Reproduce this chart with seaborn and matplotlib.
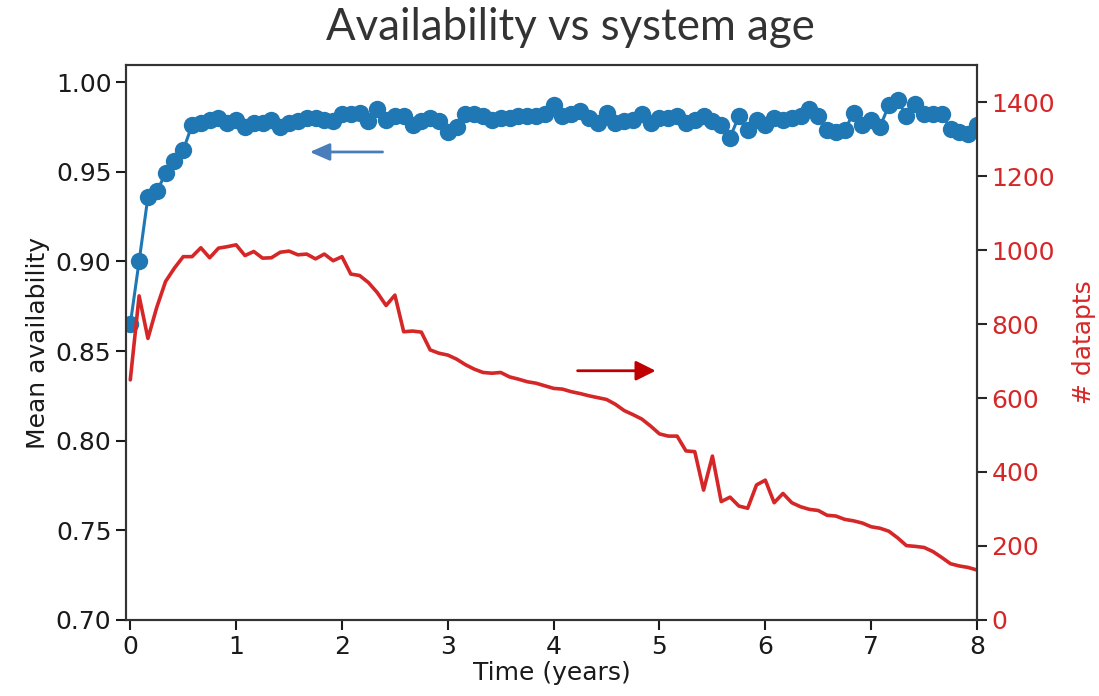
import numpy as np
import pandas as pd
import matplotlib
matplotlib.use("Agg")
import matplotlib.pyplot as plt
import seaborn as sns

# ========== data (one value per month) ==========
months = np.arange(97)
years = months / 12

mean_avail = [
    0.865, 0.900, 0.936, 0.939, 0.949, 0.956, 0.962, 0.976, 0.977, 0.979,
    0.980, 0.977, 0.979, 0.975, 0.977, 0.977, 0.979, 0.975, 0.977, 0.978,
    0.980, 0.980, 0.979, 0.978, 0.982, 0.982, 0.983, 0.978, 0.985, 0.979,
    0.981, 0.981, 0.976, 0.978, 0.980, 0.978, 0.972, 0.975, 0.982, 0.982,
    0.981, 0.979, 0.980, 0.980, 0.981, 0.981, 0.981, 0.982, 0.987, 0.981,
    0.982, 0.984, 0.980, 0.977, 0.983, 0.977, 0.978, 0.979, 0.982, 0.977,
    0.980, 0.980, 0.981, 0.977, 0.979, 0.981, 0.978, 0.976, 0.969, 0.981,
    0.973, 0.979, 0.976, 0.980, 0.979, 0.980, 0.981, 0.985, 0.981, 0.973,
    0.972, 0.973, 0.983, 0.976, 0.979, 0.975, 0.987, 0.990, 0.981, 0.988,
    0.982, 0.982, 0.982, 0.974, 0.972, 0.971, 0.976,
]

n_datapts = [
    649, 876, 761, 845, 915, 951, 982, 982, 1006, 979,
    1005, 1009, 1014, 985, 996, 978, 979, 994, 997, 987,
    989, 976, 989, 971, 982, 935, 931, 912, 885, 850,
    878, 779, 781, 778, 730, 721, 716, 705, 690, 678,
    669, 667, 669, 657, 651, 644, 640, 633, 626, 624,
    617, 612, 606, 601, 596, 583, 566, 555, 543, 524,
    503, 497, 497, 457, 455, 351, 443, 320, 332, 308,
    302, 365, 378, 317, 342, 317, 306, 299, 296, 283,
    281, 272, 268, 262, 252, 248, 240, 222, 201, 199,
    196, 185, 169, 152, 146, 142, 135,
]

df = pd.DataFrame({"years": years, "avail": mean_avail, "npts": n_datapts})

# ========== plot ==========
sns.set_style("ticks")
plt.rcParams["font.family"] = ["DejaVu Sans"]

fig = plt.figure(figsize=(10.99, 6.96), dpi=100)
ax = fig.add_axes([0.1147, 0.1092, 0.7743, 0.7974])

sns.lineplot(data=df, x="years", y="avail", ax=ax, color="#1f77b4",
             marker="o", markersize=12.5, markeredgewidth=0, linewidth=2.2)
ax.set_ylim(0.70, 1.0095)
ax.set_xlim(-0.04, 8)
ax.set_yticks([0.70, 0.75, 0.80, 0.85, 0.90, 0.95, 1.00])
ax.set_yticklabels([f"{v:.2f}" for v in ax.get_yticks()])
ax.set_xticks(range(9))
ax.set_xlabel("Time (years)", fontsize=18, color="#1a1a1a", labelpad=2)
ax.set_ylabel("Mean availability", fontsize=18, color="#1a1a1a")
ax.tick_params(labelsize=18, length=7, width=1.5, colors="#1a1a1a")

ax2 = ax.twinx()
sns.lineplot(data=df, x="years", y="npts", ax=ax2, color="#d62728", linewidth=2.6)
ax2.set_ylim(0, 1500)
ax2.set_yticks(range(0, 1401, 200))
ax2.set_ylabel("# datapts", fontsize=18, color="#d62728", labelpad=12)
ax2.tick_params(axis="y", labelsize=18, length=7, width=1.5, labelcolor="#d62728")

for a in (ax, ax2):
    for s in a.spines.values():
        s.set_linewidth(1.5)
        s.set_color("#333333")

# direction arrows pointing to each axis
ax.annotate("", xy=(1.67, 0.961), xytext=(2.41, 0.961),
            arrowprops=dict(arrowstyle="-|>,head_length=0.8,head_width=0.35",
                            mutation_scale=15, color="#4a7ebb", lw=2))
ax.annotate("", xy=(4.99, 0.839), xytext=(4.20, 0.839),
            arrowprops=dict(arrowstyle="-|>,head_length=0.8,head_width=0.4",
                            mutation_scale=15, color="#c00000", lw=2))

fig.text(570 / 1099, 1 - 27 / 696, "Availability vs system age",
         ha="center", va="center", fontsize=31.5, color="#333333", family="Lato")

fig.savefig("out.png", dpi=100)
